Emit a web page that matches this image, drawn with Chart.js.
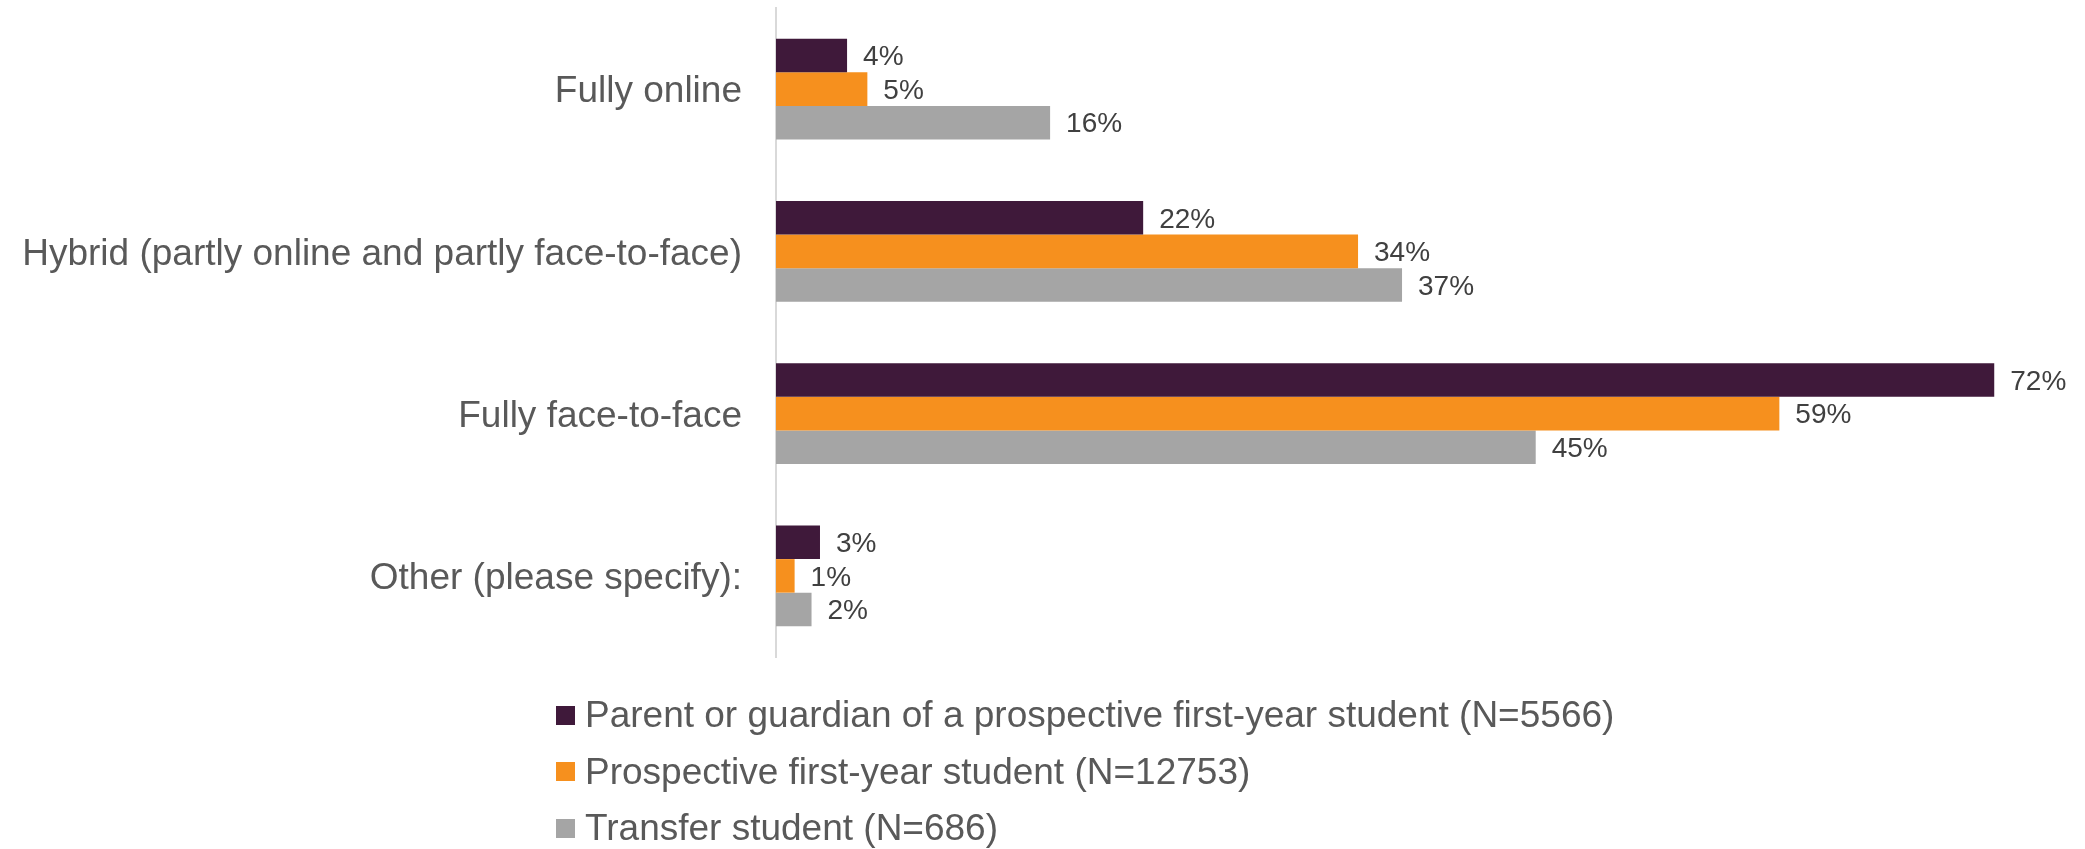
<!DOCTYPE html>
<html lang="en">
  <head>
    <meta charset="UTF-8" />
    <title>Course delivery preference</title>
    <style>
      body {
        margin: 0;
        background: #fff;
        font-family: "Liberation Sans", Arial, sans-serif;
      }
      #wrap {
        position: relative;
        width: 2085px;
        height: 849px;
      }
      #legend {
        position: absolute;
        left: 556px;
        top: 687px;
        margin: 0;
        padding: 0;
        list-style: none;
        color: #595959;
        font-size: 37px;
      }
      #legend li {
        display: flex;
        align-items: center;
        height: 56.5px;
        white-space: nowrap;
      }
      #legend span.box {
        display: inline-block;
        width: 19px;
        height: 19px;
        margin-right: 10px;
      }
    </style>
    <script src="https://cdn.jsdelivr.net/npm/chart.js@4.4.0/dist/chart.umd.min.js"></script>
  </head>
  <body>
    <div id="wrap">
      <canvas id="modeChart" width="2085" height="849"></canvas>
      <ul id="legend"></ul>
    </div>
    <script>
      var categories = [
        "Fully online",
        "Hybrid (partly online and partly face-to-face)",
        "Fully face-to-face",
        "Other (please specify):",
      ];
      var seriesNames = [
        "Parent or guardian of a prospective first-year student (N=5566)",
        "Prospective first-year student (N=12753)",
        "Transfer student (N=686)",
      ];
      var parentValues = [4.2, 21.7, 72, 2.6];
      var prospectiveValues = [5.4, 34.4, 59.3, 1.1];
      var transferValues = [16.2, 37.0, 44.9, 2.1];
      var colors = ["#3f193a", "#f6901e", "#a5a5a5"];

      var fontFamily = "'Liberation Sans', Arial, sans-serif";

      // value labels at the end of each bar
      var barLabels = {
        id: "barLabels",
        afterDatasetsDraw(chart) {
          var ctx = chart.ctx;
          ctx.save();
          ctx.font = "28px " + fontFamily;
          ctx.fillStyle = "#404040";
          ctx.textAlign = "left";
          ctx.textBaseline = "middle";
          chart.data.datasets.forEach((ds, i) => {
            chart.getDatasetMeta(i).data.forEach((bar, j) => {
              ctx.fillText(Math.round(ds.data[j]) + "%", bar.x + 16, bar.y + 2);
            });
          });
          ctx.restore();
        },
      };

      var chart = new Chart(document.getElementById("modeChart"), {
        type: "bar",
        data: {
          labels: categories,
          datasets: [
            { label: seriesNames[0], data: parentValues, backgroundColor: colors[0] },
            { label: seriesNames[1], data: prospectiveValues, backgroundColor: colors[1] },
            { label: seriesNames[2], data: transferValues, backgroundColor: colors[2] },
          ],
        },
        options: {
          indexAxis: "y",
          responsive: false,
          animation: false,
          categoryPercentage: 0.62,
          barPercentage: 1.0,
          layout: {
            padding: { top: 8, right: 40, bottom: 192, left: 0 },
          },
          plugins: {
            legend: { display: false },
            tooltip: { enabled: false },
          },
          scales: {
            x: {
              display: false,
              min: 0,
              max: 75,
            },
            y: {
              afterFit: (scale) => {
                scale.width = 776;
                scale.paddingTop = 0;
                scale.paddingBottom = 0;
              },
              grid: { display: false, drawTicks: false },
              border: { display: true, color: "#d9d9d9", width: 2 },
              ticks: {
                padding: 34,
                labelOffset: 3,
                color: "#595959",
                font: { family: fontFamily, size: 37 },
              },
            },
          },
        },
        plugins: [barLabels],
      });

      var legend = document.getElementById("legend");
      seriesNames.forEach((name, i) => {
        var li = document.createElement("li");
        var box = document.createElement("span");
        box.className = "box";
        box.style.background = colors[i];
        li.appendChild(box);
        li.appendChild(document.createTextNode(name));
        legend.appendChild(li);
      });
    </script>
  </body>
</html>
